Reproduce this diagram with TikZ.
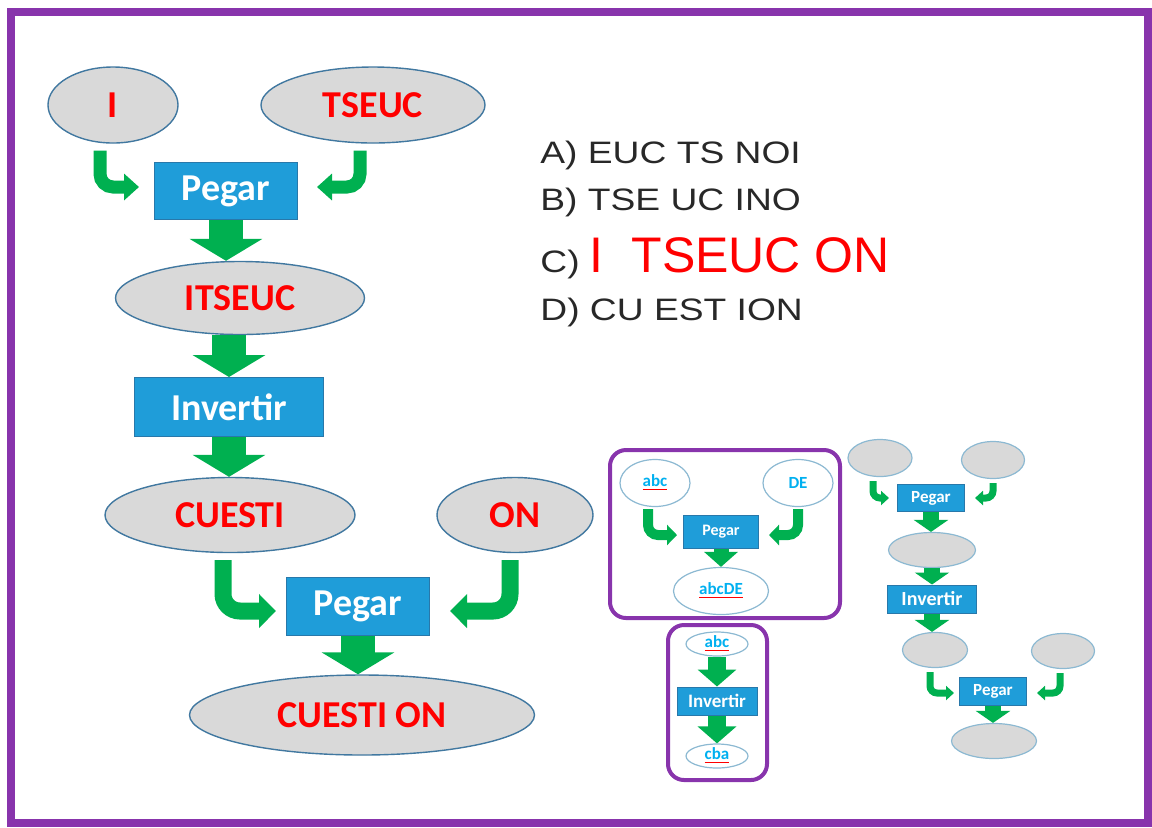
\documentclass[tikz,border=0pt]{standalone}
\usepackage{fontspec}
\usepackage{graphicx}
\usetikzlibrary{shapes.geometric,arrows.meta,calc}
\newfontfamily\calib{Carlito}
\newfontfamily\helv{Liberation Sans}
\definecolor{boxblue}{RGB}{31,157,217}
\definecolor{boxline}{RGB}{40,120,170}
\definecolor{arrgreen}{RGB}{0,176,80}
\definecolor{ellfill}{RGB}{217,217,217}
\definecolor{ellline}{RGB}{65,120,160}
\definecolor{smallline}{RGB}{140,185,210}
\definecolor{framepurple}{RGB}{136,52,172}
\definecolor{txtred}{RGB}{255,0,0}
\definecolor{optgray}{RGB}{40,40,40}
\definecolor{smallblue}{RGB}{0,176,240}
\newcommand{\spell}[1]{\textcolor{red}{\underline{\textcolor{smallblue}{#1}}}}
\newcommand{\optx}[1]{\scalebox{1.2}[1]{#1}}
\tikzset{
  ell/.style={ellipse, draw=ellline, fill=ellfill, line width=0.7pt, inner sep=0pt,
    text=txtred, font=\calib\bfseries\fontsize{19}{19}\selectfont},
  proc/.style={rectangle, draw=boxline, fill=boxblue, line width=0.5pt, inner sep=0pt,
    text=white, font=\calib\bfseries\fontsize{19}{19}\selectfont},
  sell/.style={ellipse, draw=smallline, fill=white, line width=0.6pt, inner sep=0pt,
    font=\calib\bfseries\fontsize{8.5}{8.5}\selectfont},
  sproc/.style={proc, font=\calib\bfseries\fontsize{8}{8}\selectfont},
  gell/.style={ellipse, draw=smallline, fill=ellfill, line width=0.6pt, inner sep=0pt},
  opt/.style={inner sep=0pt, anchor=base west, text=optgray,
    font=\helv\fontsize{15.5}{15.5}\selectfont},
  grp/.style={draw=framepurple, line width=2pt, rounded corners=8pt},
  downarr/.style n args={3}{arrgreen, line width=#1, -{Triangle[width=#2,length=#3]}},
  bent/.style n args={3}{arrgreen, line width=#1, rounded corners=#1,
    -{Triangle[width=#2,length=#3]}}
}
\begin{document}
\begin{tikzpicture}[x=0.5pt,y=-0.5pt]
  \useasboundingbox (0,0) rectangle (1152,827);
  \draw[framepurple, line width=4pt] (11,12) rectangle (1148,823);

  % main chain
  \node[ell, minimum width=65pt, minimum height=38pt] (inI) at (113,105) {I};
  \node[ell, minimum width=112pt, minimum height=38pt] (inT) at (373,105) {TSEUC};
  \node[proc, minimum width=71.5pt, minimum height=28.5pt] (pegA) at (226,191) {Pegar};
  \node[ell, minimum width=124.5pt, minimum height=36.5pt] (outA) at (240,298) {ITSEUC};
  \node[proc, minimum width=94.5pt, minimum height=29.5pt] (inv) at (229,407) {Invertir};
  \node[ell, minimum width=125pt, minimum height=37.5pt] (outB) at (230,515) {CUESTI};
  \node[ell, minimum width=78pt, minimum height=37.5pt] (inON) at (515,515) {ON};
  \node[proc, minimum width=71.5pt, minimum height=29pt] (pegB) at (358,606) {Pegar};
  \node[ell, minimum width=172.5pt, minimum height=40pt] (outC) at (362,715) {CUESTI ON};

  \draw[bent={6.5pt}{13pt}{7.5pt}] ($(inI.south)+(-13,7)$) |- ($(pegA.west)+(-15,-4)$);
  \draw[bent={6.5pt}{13pt}{7.5pt}] ($(inT.south)+(-13,7)$) |- ($(pegA.east)+(19,-4)$);
  \draw[downarr={17pt}{36pt}{11pt}] (pegA.south) -- (pegA.south |- outA.north);
  \draw[downarr={17pt}{36pt}{11pt}] (inv.north |- outA.south) -- (inv.north);
  \draw[downarr={17pt}{36pt}{11pt}] (inv.south) -- (inv.south |- outB.north);
  \draw[bent={8.5pt}{16.5pt}{8.5pt}] ($(outB.south)+(-7,7)$) |- ($(pegB.west)+(-10,5)$);
  \draw[bent={8.5pt}{16.5pt}{8.5pt}] ($(inON.south)+(-5,7)$) |- ($(pegB.east)+(20,5)$);
  \draw[downarr={17pt}{36pt}{11pt}] (pegB.south) -- (pegB.south |- outC.north);

  % answers
  \node[opt] (optA) at (540,163) {\optx{A) EUC TS NOI}};
  \node[opt] (optB) at (540,210) {\optx{B) TSE UC INO}};
  \node[opt] (optC) at (540,272) {\optx{C) }\textcolor{txtred}{\fontsize{25}{25}\selectfont I\ \ TSEUC ON}};
  \node[opt] (optD) at (540,320) {\optx{D) CU EST ION}};

  % example: pegar
  \draw[grp] (610,450) rectangle (840,618);
  \node[sell, minimum width=35pt, minimum height=23.5pt] (sa) at (655,483) {\spell{abc}};
  \node[sell, minimum width=35pt, minimum height=23.5pt] (sd) at (798,483) {\textcolor{smallblue}{DE}};
  \node[sproc, minimum width=37.5pt, minimum height=16.5pt] (spa) at (721,532) {Pegar};
  \node[sell, minimum width=47.5pt, minimum height=23.5pt] (sae) at (721,591) {\spell{abcDE}};
  \draw[bent={5pt}{10pt}{5pt}] ($(sa.south)+(-7,2)$) |- ($(spa.west)+(-6,3)$);
  \draw[bent={5pt}{10pt}{5pt}] ($(sd.south)+(0,2)$) |- ($(spa.east)+(10,3)$);
  \draw[downarr={7.5pt}{16.5pt}{7.5pt}] (spa.south) -- (spa.south |- sae.north);

  % example: invertir
  \draw[grp] (668,625) rectangle (767,780);
  \node[sell, minimum width=31pt, minimum height=12pt] (sb) at (717,644) {\spell{abc}};
  \node[sproc, minimum width=40pt, minimum height=14pt, font=\calib\bfseries\fontsize{9.5}{9.5}\selectfont] (sinv) at (717,701) {Invertir};
  \node[sell, minimum width=31pt, minimum height=12pt] (sc) at (717,756) {\spell{cba}};
  \draw[downarr={9pt}{19pt}{8.5pt}] (sb.south) -- (sinv.north);
  \draw[downarr={9pt}{19pt}{8.5pt}] (sinv.south) -- (sc.north);

  % empty scheme
  \node[gell, minimum width=32pt, minimum height=18.5pt] (ga) at (880,458) {};
  \node[gell, minimum width=31.5pt, minimum height=18.5pt] (gb) at (993,460) {};
  \node[sproc, minimum width=33.5pt, minimum height=13.5pt, font=\calib\bfseries\fontsize{8.5}{8.5}\selectfont] (gpa) at (931,498) {Pegar};
  \node[gell, minimum width=43.5pt, minimum height=17.5pt] (gc) at (932,550) {};
  \node[sproc, minimum width=44.5pt, minimum height=14pt, font=\calib\bfseries\fontsize{10}{10}\selectfont] (ginv) at (932,599) {Invertir};
  \node[gell, minimum width=32.5pt, minimum height=17.5pt] (gd) at (935,650) {};
  \node[gell, minimum width=31.5pt, minimum height=17.5pt] (ge) at (1063,651) {};
  \node[sproc, minimum width=33.5pt, minimum height=14pt, font=\calib\bfseries\fontsize{8.5}{8.5}\selectfont] (gpb) at (993,691) {Pegar};
  \node[gell, minimum width=42.5pt, minimum height=17.5pt] (gf) at (994,741) {};
  \draw[bent={3.5pt}{7pt}{4pt}] ($(ga.south)+(-7,4)$) |- ($(gpa.west)+(-8,0)$);
  \draw[bent={3.5pt}{7pt}{4pt}] ($(gb.south)+(0,4)$) |- ($(gpa.east)+(10,0)$);
  \draw[downarr={8pt}{17pt}{6pt}] (gpa.south) -- (gpa.south |- gc.north);
  \draw[downarr={8pt}{17pt}{6pt}] (ginv.north |- gc.south) -- (ginv.north);
  \draw[downarr={8pt}{17pt}{6pt}] (ginv.south) -- (ginv.south |- gd.north);
  \draw[bent={3.5pt}{7pt}{4pt}] ($(gd.south)+(-5,4)$) |- ($(gpb.west)+(-5,2)$);
  \draw[bent={3.5pt}{7pt}{4pt}] ($(ge.south)+(-3,4)$) |- ($(gpb.east)+(10,2)$);
  \draw[downarr={8pt}{17pt}{6pt}] (gpb.south) -- (gpb.south |- gf.north);
\end{tikzpicture}
\end{document}
